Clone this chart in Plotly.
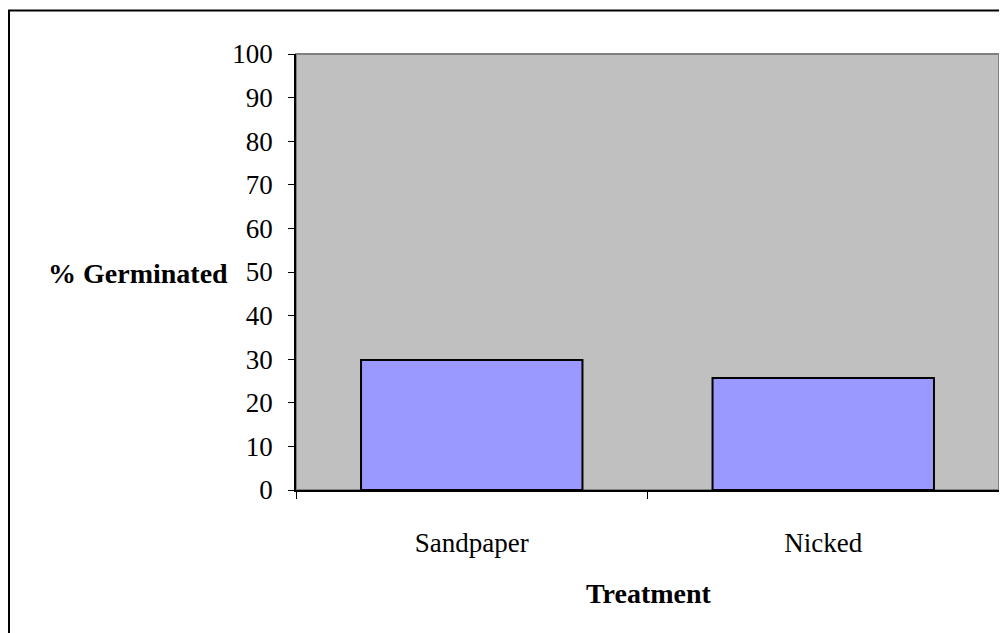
import plotly.graph_objects as go

categories = ["Sandpaper", "Nicked"]
values = [29.8, 25.7]
y_ticks = list(range(0, 101, 10))

# page body has an 8px margin, so figure pixels = screen pixels - 8
W, H = 999, 625
L, R, T, B = 288, 8, 46, 143
pw, ph = W - L - R, H - T - B

font = "Liberation Serif, Times New Roman, serif"

fig = go.Figure()
fig.add_trace(go.Bar(
    x=categories, y=values,
    marker=dict(color="#9999FF", line=dict(color="black", width=2)),
))

fig.update_layout(
    width=W, height=H,
    margin=dict(l=L, r=R, t=T, b=B, pad=0),
    paper_bgcolor="white",
    plot_bgcolor="#C0C0C0",
    bargap=0.37,
    showlegend=False,
    font=dict(family=font, size=27, color="black"),
)
fig.update_xaxes(
    showline=True, linecolor="black", linewidth=1.5,
    ticks="outside", tickson="boundaries", ticklen=7, tickcolor="black", tickwidth=1,
    ticklabelstandoff=28, showgrid=False,
    tickfont=dict(family=font, size=27, color="black"),
)
fig.update_yaxes(
    range=[0, 100], tickvals=y_ticks,
    showline=True, linecolor="black", linewidth=1.5,
    ticks="outside", ticklen=6, tickcolor="black", tickwidth=1,
    ticklabelstandoff=10, showgrid=False, zeroline=False,
    tickfont=dict(family=font, size=27, color="black"),
)

# plot area border (gray top/right)
fig.add_shape(type="rect", xref="paper", yref="paper", x0=0, x1=1, y0=0, y1=1,
              line=dict(color="#808080", width=2), layer="below")

# outer chart border
fig.add_shape(type="rect", xref="paper", yref="paper",
              x0=(1 - L) / pw, x1=1.5, y0=-1.0, y1=(H - B - 2.5) / ph,
              line=dict(color="black", width=2), fillcolor="rgba(0,0,0,0)")

fig.add_annotation(text="<b>% Germinated</b>", xref="paper", yref="paper",
                   x=(222 - L) / pw, y=(H - B - 265) / ph, xanchor="right", yanchor="middle",
                   showarrow=False, font=dict(family=font, size=28, color="black"))
fig.add_annotation(text="<b>Treatment</b>", xref="paper", yref="paper",
                   x=(641 - L) / pw, y=-(585 - (H - B)) / ph, xanchor="center", yanchor="middle",
                   showarrow=False, font=dict(family=font, size=28, color="black"))

fig.write_html("out.html")
